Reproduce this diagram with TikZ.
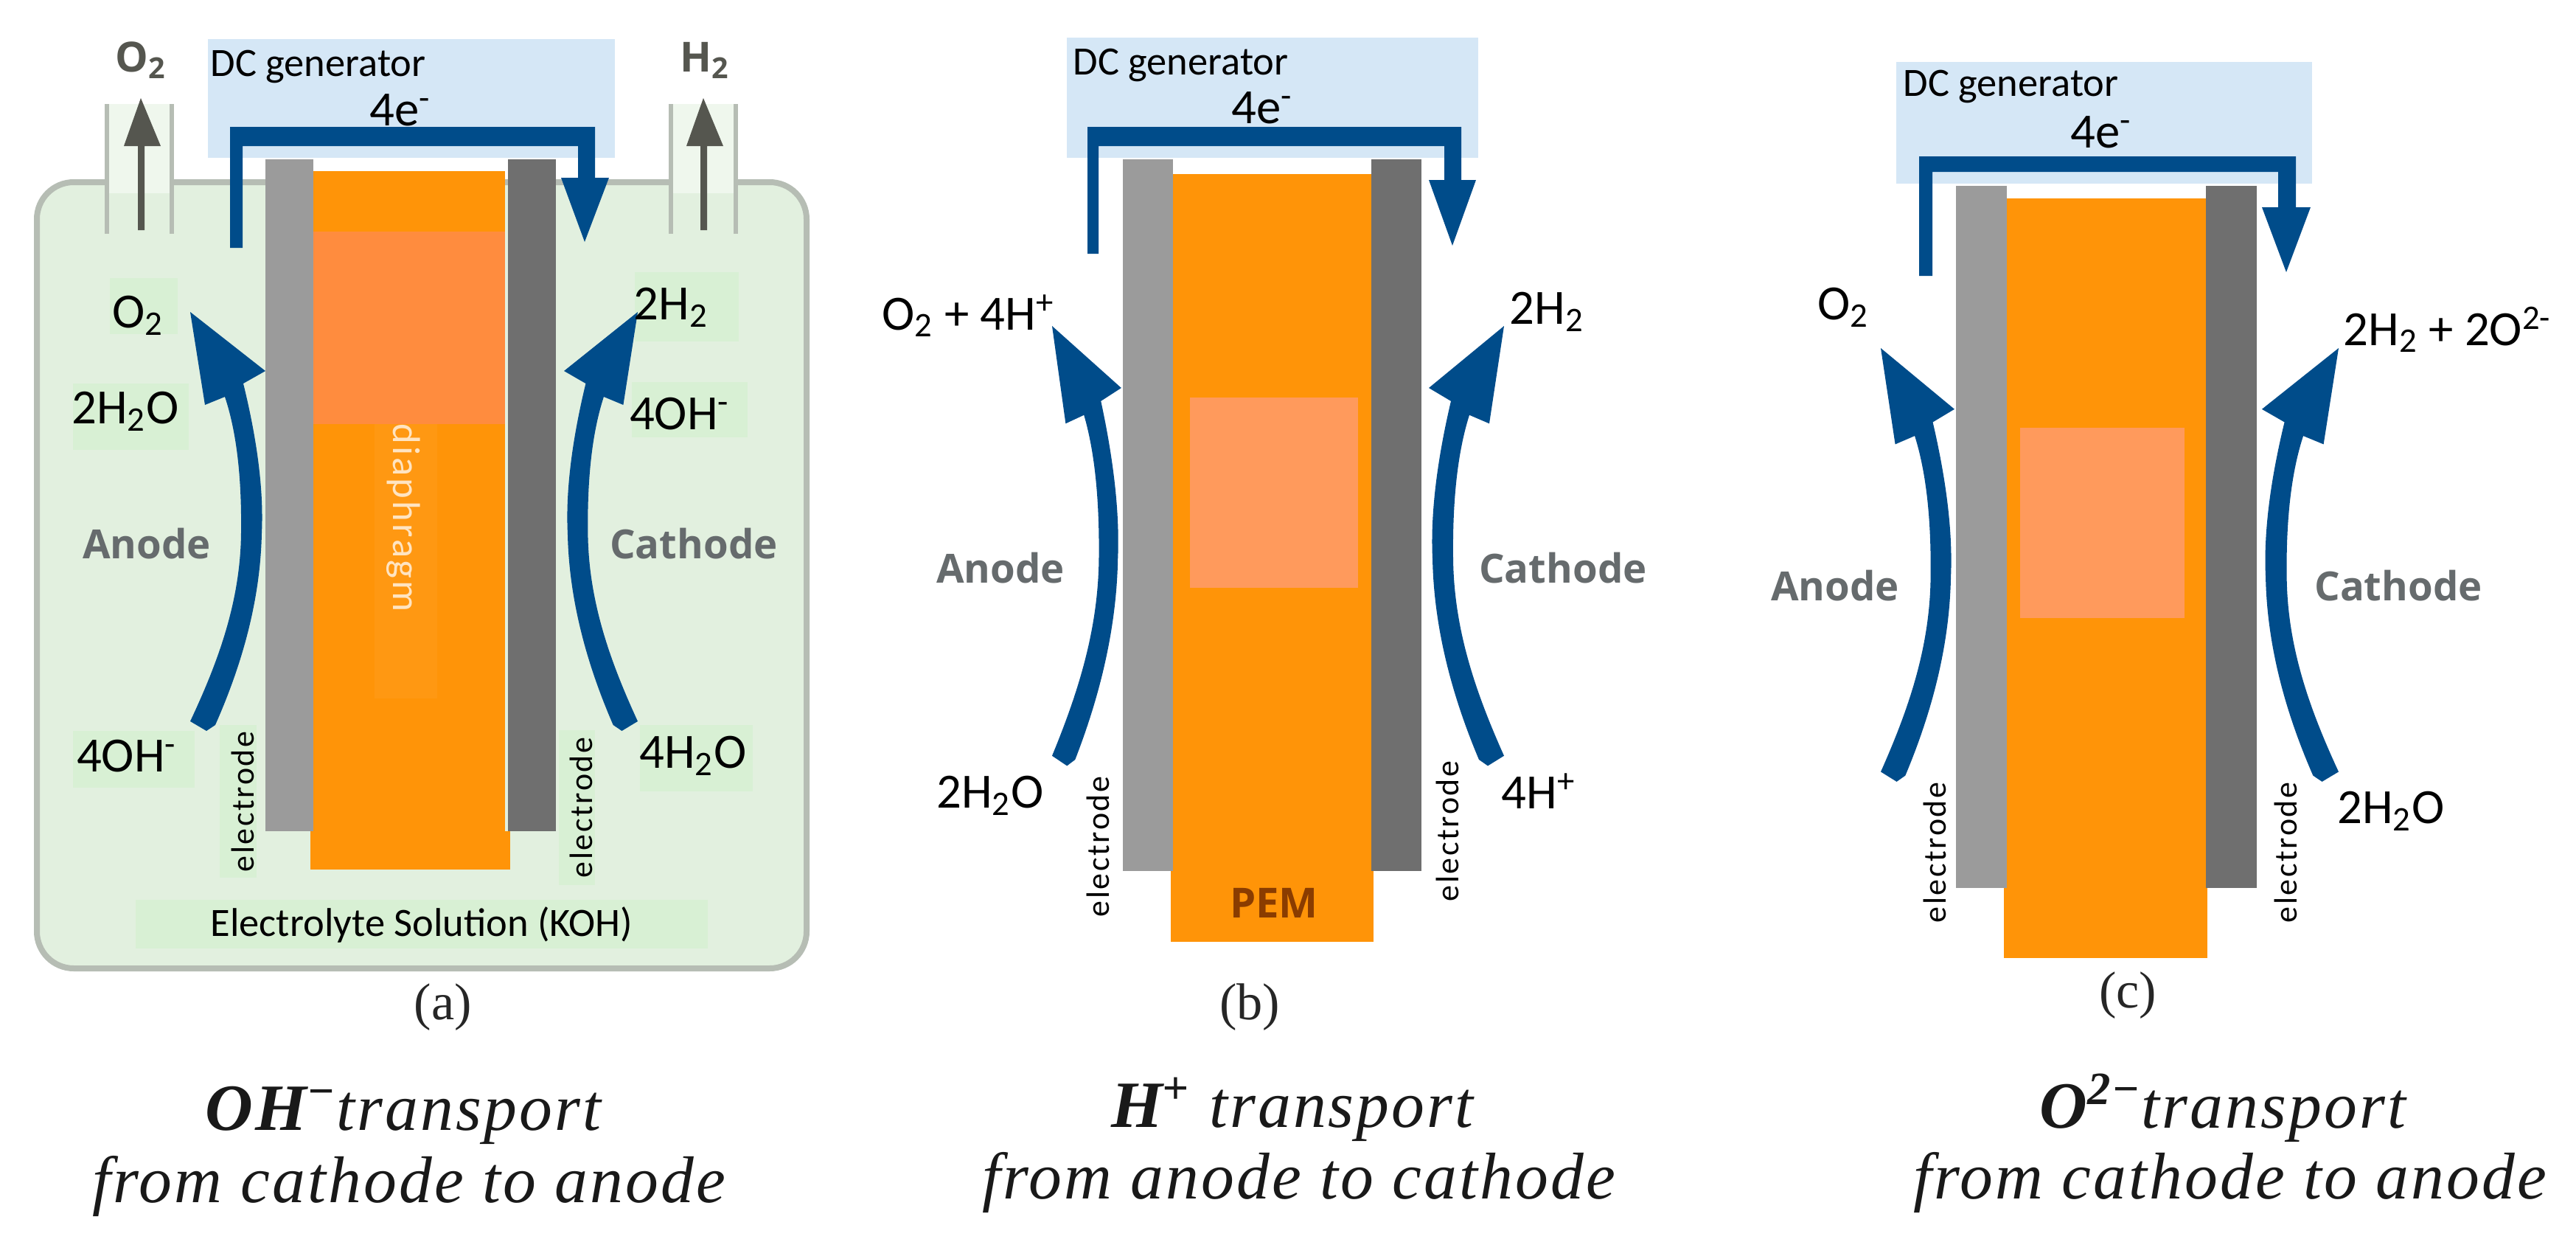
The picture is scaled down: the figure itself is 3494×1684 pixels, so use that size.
\documentclass[tikz,border=0pt]{standalone}
\usepackage{fontspec}
\setmainfont{Carlito}
\newfontfamily\labfont{Carlito}
\newfontfamily\spacedfont[LetterSpace=6]{Carlito}
\newfontfamily\plainsans{Open Sans}
\newfontfamily\panelfont{Liberation Serif}
\newfontfamily\capfont[LetterSpace=3.5]{Liberation Serif}
\definecolor{flowblue}{HTML}{004C8A}
\definecolor{dcblue}{HTML}{D5E7F6}
\definecolor{elecL}{HTML}{9B9B9B}
\definecolor{elecR}{HTML}{6F6F6F}
\definecolor{memb}{HTML}{FF9408}
\definecolor{membA}{HTML}{FF8C3E}
\definecolor{membB}{HTML}{FF9A5C}
\definecolor{membC}{HTML}{FF9812}
\definecolor{tankfill}{HTML}{E2F0DF}
\definecolor{tankline}{HTML}{B6BDB4}
\definecolor{patch}{HTML}{D8F0D4}
\definecolor{gasgrey}{HTML}{55564F}
\definecolor{sidegrey}{HTML}{666B6D}
\definecolor{pemtext}{HTML}{8A3C00}
\newcommand\tsub[1]{\textsubscript{#1}}
\newcommand\tsup[1]{\textsuperscript{#1}}
\newcommand\flowarrow[4]{%
  \begin{scope}[shift={(#1,#2)},xscale=#3,yscale=#4]
    \fill[flowblue] (0,0) -- (102,80) -- (72,97)
      .. controls (90,170) and (100,240) .. (97,300)
      .. controls (95,400) and (65,490) .. (34,560)
      -- (22,568) -- (0,555)
      .. controls (40,470) and (68,390) .. (69,300)
      .. controls (70,220) and (62,160) .. (47,115)
      -- (20,126) -- cycle;
  \end{scope}}
\tikzset{
  chem/.style={font=\labfont\fontsize{19}{19}\selectfont,text=black,inner sep=0pt},
  dctext/.style={font=\labfont\fontsize{15.5}{15.5}\selectfont,text=black,inner sep=0pt,anchor=west},
  etext/.style={font=\labfont\fontsize{19}{19}\selectfont,text=black,inner sep=0pt},
  electext/.style={font=\spacedfont\fontsize{12.5}{12.5}\selectfont,text=black,inner sep=0pt,rotate=90},
  sidetext/.style={font=\plainsans\bfseries\fontsize{15.5}{15.5}\selectfont,text=sidegrey,inner sep=0pt},
  gastext/.style={font=\plainsans\bfseries\fontsize{16}{16}\selectfont,text=gasgrey,inner sep=0pt},
  paneltext/.style={font=\panelfont\fontsize{20}{20}\selectfont,text=black!85,inner sep=0pt},
  captext/.style={font=\capfont\itshape\fontsize{25.5}{25.5}\selectfont,text=black!90,inner sep=0pt},
}
\begin{document}
\begin{tikzpicture}[x=0.1mm,y=-0.1mm]
\useasboundingbox (0,0) rectangle (3494,1684);
\fill[white] (0,0) rectangle (3494,1684);

%% ---------- panel (a) ----------
\filldraw[fill=tankfill,draw=tankline,line width=0.8mm,rounded corners=5mm] (50,247) rectangle (1094,1313);
% outlet pipes
\fill[tankfill!55] (147,141) rectangle (231,262);
\fill[tankfill!55] (912,141) rectangle (996,262);
\fill[tankfill] (147,262) rectangle (231,320);
\fill[tankfill] (912,262) rectangle (996,320);
\draw[tankline,line width=0.6mm] (145,141) -- (145,317) (233,141) -- (233,317) (910,141) -- (910,317) (998,141) -- (998,317);
% gas arrows
\fill[gasgrey] (187,312) -- (187,198) -- (168,198) -- (191,133) -- (218,198) -- (196,198) -- (196,312) -- cycle;
\fill[gasgrey] (950,312) -- (950,198) -- (931,198) -- (954,133) -- (981,198) -- (959,198) -- (959,312) -- cycle;
% label patches
\fill[patch] (149,377) rectangle (241,453);
\fill[patch] (99,520) rectangle (256,610);
\fill[patch] (861,369) rectangle (1002,463);
\fill[patch] (857,518) rectangle (1014,593);
\fill[patch] (99,991) rectangle (264,1068);
\fill[patch] (868,983) rectangle (1021,1073);
\fill[patch] (184,1220) rectangle (960,1286);
\fill[patch] (298,983) rectangle (348,1190);
\fill[patch] (758,990) rectangle (807,1200);
% stack
\fill[white] (425,214) rectangle (689,232);
\fill[dcblue] (282,53) rectangle (834,214);
\fill[memb] (425,232) rectangle (685,1127);
\fill[memb] (421,1127) rectangle (692,1179);
\fill[membA] (425,314) rectangle (685,575);
\fill[membC] (508,575) rectangle (593,947);
\fill[elecL] (360,216) rectangle (425,1127);
\fill[elecR] (689,216) rectangle (754,1127);
% electron bracket
\fill[flowblue] (312,336) -- (312,172) -- (807,172) -- (807,241) -- (826,241) -- (793,328) -- (761,241) -- (784,241) -- (784,198) -- (329,198) -- (329,336) -- cycle;
\flowarrow{258}{423}{1}{1}
\flowarrow{865}{423}{-.98}{1}
% texts
\node[gastext] (aOtwo) at (191,82) {O\tsub{2}};
\node[gastext] (aHtwo) at (956,82) {H\tsub{2}};
\node[dctext] (aDC) at (285,91) {DC generator};
\node[etext] (aE) at (543,149) {4e\tsup{-}};
\node[chem] (aL1) at (187,428) {O\tsub{2}};
\node[chem] (aL2) at (170,558) {2H\tsub{2}O};
\node[chem] (aR1) at (910,417) {2H\tsub{2}};
\node[chem] (aR2) at (922,561) {4OH\tsup{-}};
\node[sidetext] (aAn) at (199,737) {Anode};
\node[sidetext] (aCa) at (941,737) {Cathode};
\node[chem] (aL3) at (172,1025) {4OH\tsup{-}};
\node[chem] (aR3) at (940,1025) {4H\tsub{2}O};
\node[electext] (aEl) at (329,1087) {electrode};
\node[electext] (aEr) at (788,1095) {electrode};
\node[font=\spacedfont\fontsize{15}{15}\selectfont,text=memb!25!white,inner sep=0pt,rotate=-90] (aDia) at (547,702) {diaphragm};
\node[chem,font=\labfont\fontsize{15.5}{15.5}\selectfont] (aSol) at (572,1254) {Electrolyte Solution (KOH)};
\node[paneltext] (aPan) at (601,1366) {(a)};
\node[captext] (aCap1) at (547,1512) {{\bfseries OH}\tsup{\bfseries −}transport};
\node[captext] (aCap2) at (555,1608) {from cathode to anode};

%% ---------- panel (b) ----------
\fill[dcblue] (1447,51) rectangle (2005,214);
\fill[memb] (1591,236) rectangle (1860,1181);
\fill[memb] (1588,1181) rectangle (1863,1277);
\fill[membB] (1614,539) rectangle (1842,797);
\fill[elecL] (1523,216) rectangle (1591,1181);
\fill[elecR] (1860,216) rectangle (1928,1181);
\fill[flowblue] (1475,344) -- (1475,172) -- (1982,172) -- (1982,244) -- (2002,244) -- (1970,333) -- (1938,244) -- (1959,244) -- (1959,198) -- (1490,198) -- (1490,344) -- cycle;
\flowarrow{1427}{442}{.92}{1.05}
\flowarrow{2040}{442}{-1}{1.05}
\node[dctext] (bDC) at (1455,89) {DC generator};
\node[etext] (bE) at (1712,146) {4e\tsup{-}};
\node[chem,anchor=west] (bL1) at (1196,428) {O\tsub{2} + 4H\tsup{+}};
\node[chem,anchor=west] (bR1) at (2047,423) {2H\tsub{2}};
\node[sidetext] (bAn) at (1357,770) {Anode};
\node[sidetext] (bCa) at (2120,770) {Cathode};
\node[chem] (bL2) at (1343,1079) {2H\tsub{2}O};
\node[chem] (bR2) at (2087,1073) {4H\tsup{+}};
\node[electext] (bEl) at (1489,1148) {electrode};
\node[electext] (bEr) at (1963,1127) {electrode};
\node[font=\plainsans\bfseries\fontsize{16}{16}\selectfont,text=pemtext,inner sep=0pt] (bPEM) at (1728,1224) {PEM};
\node[paneltext] (bPan) at (1695,1366) {(b)};
\node[captext] (bCap1) at (1753,1504) {{\bfseries H}\tsup{\bfseries +} transport};
\node[captext] (bCap2) at (1762,1603) {from anode to cathode};

%% ---------- panel (c) ----------
\fill[dcblue] (2572,84) rectangle (3136,249);
\fill[memb] (2722,269) rectangle (2992,1204);
\fill[memb] (2718,1204) rectangle (2994,1299);
\fill[membB] (2740,580) rectangle (2963,838);
\fill[elecL] (2653,252) rectangle (2722,1204);
\fill[elecR] (2992,252) rectangle (3061,1204);
\fill[flowblue] (2603,374) -- (2603,212) -- (3114,212) -- (3114,281) -- (3134,281) -- (3101,369) -- (3068,281) -- (3090,281) -- (3090,233) -- (2621,233) -- (2621,374) -- cycle;
\flowarrow{2551}{472}{.98}{1.035}
\flowarrow{3172}{472}{-1.02}{1.035}
\node[dctext] (cDC) at (2581,118) {DC generator};
\node[etext] (cE) at (2850,179) {4e\tsup{-}};
\node[chem] (cL1) at (2500,417) {O\tsub{2}};
\node[chem,anchor=west] (cR1) at (3178,447) {2H\tsub{2} + 2O\tsup{2-}};
\node[sidetext] (cAn) at (2489,794) {Anode};
\node[sidetext] (cCa) at (3253,794) {Cathode};
\node[chem] (cR2) at (3243,1100) {2H\tsub{2}O};
\node[electext] (cEl) at (2624,1156) {electrode};
\node[electext] (cEr) at (3100,1156) {electrode};
\node[paneltext] (cPan) at (2886,1350) {(c)};
\node[captext] (cCap1) at (3015,1502) {{\bfseries O}\tsup{\bfseries 2−}transport};
\node[captext] (cCap2) at (3025,1603) {from cathode to anode};
\end{tikzpicture}
\end{document}
